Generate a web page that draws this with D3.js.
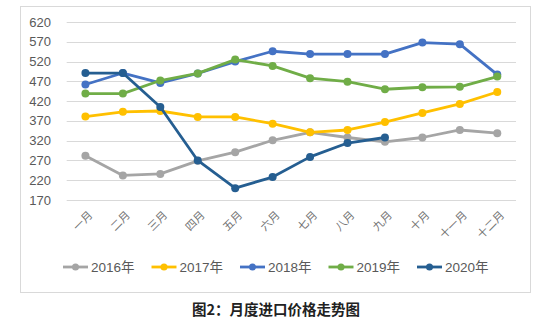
<!DOCTYPE html>
<html><head><meta charset="utf-8">
<script src="https://cdn.jsdelivr.net/npm/d3@7"></script>
<style>body{margin:0;background:#fff}</style>
</head><body>
<script>
const months = ["一月","二月","三月","四月","五月","六月","七月","八月","九月","十月","十一月","十二月"];
const yTicks = [170,220,270,320,370,420,470,520,570,620];
const seriesNames = ["2016年","2017年","2018年","2019年","2020年"];
const seriesColors = ["#a5a5a5","#ffc000","#4472c4","#70ad47","#255e91"];
const v2016 = [282,232,236,269,291,321,341,328,317,328,347,339];
const v2017 = [381,393,395,380,380,363,341,347,367,390,413,443];
const v2018 = [462,491,466,490,520,546,539,539,539,568,564,487];
const v2019 = [439,439,472,490,525,509,478,469,450,455,456,482];
const v2020 = [491,491,405,270,200,228,279,314,328];
const allSeries = [v2016,v2017,v2018,v2019,v2020];

const W=547,H=324;
const svg=d3.select("body").append("svg").attr("width",W).attr("height",H);
svg.append("rect").attr("x",20.5).attr("y",6.5).attr("width",510).attr("height",286)
  .attr("fill","#fff").attr("stroke","#d9d9d9");

const x=d3.scaleBand().domain(months).range([66.7,516]);
const y=d3.scaleLinear().domain([170,620]).range([200,22]);
const font="'Liberation Sans', Arial, sans-serif";

// grid
svg.append("g").selectAll("line").data(yTicks).join("line")
  .attr("x1",66.7).attr("x2",516).attr("y1",d=>Math.round(y(d))+0.5).attr("y2",d=>Math.round(y(d))+0.5)
  .attr("stroke","#d9d9d9").attr("stroke-width",1);
// y labels
svg.append("g").selectAll("text").data(yTicks).join("text")
  .attr("x",51).attr("y",d=>y(d)).attr("dy","0.35em").attr("text-anchor","end")
  .attr("font-family",font).attr("font-size",13).attr("fill","#595959").text(d=>d);
// x labels
svg.append("g").selectAll("text").data(months).join("text")
  .attr("transform",d=>`translate(${x(d)+x.bandwidth()/2+2},${210}) rotate(-45)`)
  .attr("text-anchor","end").attr("dy","0.75em")
  .attr("font-family","'Noto Sans CJK SC', sans-serif").attr("font-size",11).attr("fill","#737373").text(d=>d);

const line=d3.line().x((d,i)=>x(months[i])+x.bandwidth()/2).y(d=>y(d));
allSeries.forEach((vals,k)=>{
  const g=svg.append("g");
  g.append("path").attr("d",line(vals)).attr("fill","none").attr("stroke",seriesColors[k])
    .attr("stroke-width",2.8).attr("stroke-linejoin","round");
  g.selectAll("circle").data(vals).join("circle")
    .attr("cx",(d,i)=>x(months[i])+x.bandwidth()/2).attr("cy",d=>y(d)).attr("r",4)
    .attr("fill",seriesColors[k]);
});

// legend
const lg=svg.append("g");
seriesNames.forEach((n,k)=>{
  const lx=63+k*88.5, ly=267;
  lg.append("line").attr("x1",lx).attr("x2",lx+25).attr("y1",ly).attr("y2",ly)
    .attr("stroke",seriesColors[k]).attr("stroke-width",2.8);
  lg.append("circle").attr("cx",lx+12.5).attr("cy",ly).attr("r",3.5).attr("fill",seriesColors[k]);
  lg.append("text").attr("x",lx+28).attr("y",ly).attr("dy","0.36em")
    .attr("font-family","'Liberation Sans', 'Noto Sans CJK SC', sans-serif").attr("font-size",13.5).attr("fill","#595959").text(n);
});

svg.append("text").attr("x",276).attr("y",315).attr("text-anchor","middle")
  .attr("font-family","'Noto Sans CJK SC', sans-serif").attr("font-weight","bold").attr("font-size",14.5)
  .attr("fill","#222").text("图2：月度进口价格走势图");
</script>
</body></html>
